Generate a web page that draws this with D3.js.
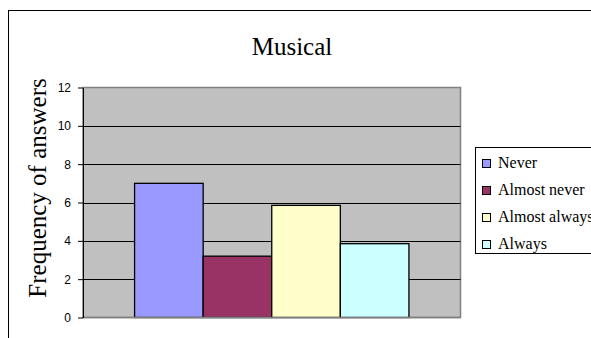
<!DOCTYPE html>
<html>
<head>
<meta charset="utf-8">
<script src="https://cdn.jsdelivr.net/npm/d3@7"></script>
<style>
  body { margin: 0; background: #fff; }
  svg { display: block; }
</style>
</head>
<body>
<div id="chart"></div>
<script>
let categories = ['Musical'];
let series = ['Never', 'Almost never', 'Almost always', 'Always'];
let values = [7, 3.2, 5.85, 3.85];
let colors = ['#9999FF', '#993366', '#FFFFCC', '#CCFFFF'];
let yTicks = [0, 2, 4, 6, 8, 10, 12];

let width = 591;
let height = 338;
let serif = '"Liberation Serif", "Times New Roman", serif';
let sans = '"Liberation Sans", Arial, sans-serif';

let plot = { left: 83, top: 87.5, right: 460.5, bottom: 317.5 };

let svg = d3.select('#chart')
    .append('svg')
    .attr('width', width)
    .attr('height', height);

// outer chart border
svg.append('rect')
    .attr('x', 8.5).attr('y', 10.5)
    .attr('width', 700).attr('height', 500)
    .attr('fill', 'white')
    .attr('stroke', 'black');

// title
svg.append('text')
    .attr('x', 292).attr('y', 55)
    .attr('text-anchor', 'middle')
    .style('font-family', serif)
    .style('font-size', '25px')
    .text(categories[0]);

let y = d3.scaleLinear().domain([0, 12]).range([plot.bottom, plot.top]);
let x0 = d3.scaleBand().domain(categories)
    .range([plot.left, plot.right])
    .paddingInner(0).paddingOuter(0.188);
let x1 = d3.scaleBand().domain(series).range([0, x0.bandwidth()]);

// plot area
svg.append('rect')
    .attr('x', plot.left).attr('y', plot.top)
    .attr('width', plot.right - plot.left)
    .attr('height', plot.bottom - plot.top)
    .attr('fill', '#C0C0C0')
    .attr('stroke', '#808080')
    .attr('stroke-width', 1.5);

// gridlines
svg.append('g')
    .selectAll('line')
    .data(yTicks.filter(d => d > 0 && d < 12))
    .enter().append('line')
    .attr('x1', plot.left).attr('x2', plot.right)
    .attr('y1', d => Math.round(y(d)) + 0.5)
    .attr('y2', d => Math.round(y(d)) + 0.5)
    .attr('stroke', '#000')
    .attr('stroke-width', 1);

// bars
svg.append('g')
    .selectAll('rect')
    .data(series)
    .enter().append('rect')
    .attr('x', (d) => x0(categories[0]) + x1(d))
    .attr('y', (d, i) => y(values[i]))
    .attr('width', x1.bandwidth())
    .attr('height', (d, i) => y(0) - y(values[i]))
    .attr('fill', (d, i) => colors[i])
    .attr('stroke', '#000')
    .attr('stroke-width', 1.3);

// bottom axis line
svg.append('line')
    .attr('x1', plot.left).attr('x2', plot.right)
    .attr('y1', plot.bottom).attr('y2', plot.bottom)
    .attr('stroke', '#808080')
    .attr('stroke-width', 1.5);

// y axis
let yAxis = d3.axisLeft(y)
    .tickValues(yTicks)
    .tickSize(5)
    .tickPadding(7)
    .tickSizeOuter(0);
let ag = svg.append('g')
    .attr('transform', 'translate(' + plot.left + ',0)')
    .call(yAxis);
ag.select('.domain').attr('stroke', '#000');
ag.selectAll('.tick line').attr('stroke', '#000');
ag.selectAll('.tick text')
    .style('font-family', sans)
    .style('font-size', '12px')
    .attr('fill', '#000');

// y axis label
svg.append('text')
    .attr('transform', 'translate(46,' + 188 + ') rotate(-90)')
    .attr('text-anchor', 'middle')
    .style('font-family', serif)
    .style('font-size', '25px')
    .text('Frequency of answers');

// legend
let legend = svg.append('g');
legend.append('rect')
    .attr('x', 475.5).attr('y', 147.5)
    .attr('width', 200).attr('height', 106)
    .attr('fill', 'white')
    .attr('stroke', '#000');

let ly = d3.scalePoint().domain(series).range([163, 244]);
let items = legend.selectAll('.legend')
    .data(series)
    .enter().append('g')
    .attr('class', 'legend')
    .attr('transform', d => 'translate(0,' + ly(d) + ')');
items.append('rect')
    .attr('x', 482.5).attr('y', -3.5)
    .attr('width', 8).attr('height', 8)
    .attr('fill', (d, i) => colors[i])
    .attr('stroke', '#000');
items.append('text')
    .attr('x', 498).attr('y', 5)
    .style('font-family', serif)
    .style('font-size', '16px')
    .text(d => d);
</script>
</body>
</html>
